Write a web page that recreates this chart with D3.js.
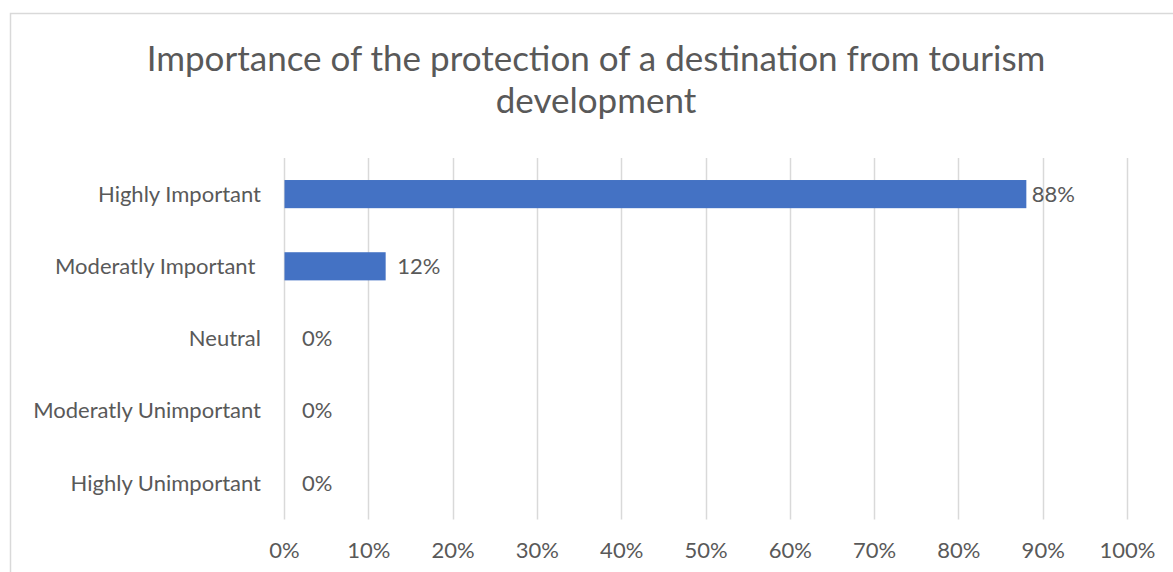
<!DOCTYPE html>
<html>
<head>
<meta charset="utf-8">
<script src="https://cdn.jsdelivr.net/npm/d3@7"></script>
<style>
  html, body { margin: 0; padding: 0; background: #fff; }
  svg { display: block; }
  text { font-family: Lato, "Open Sans", sans-serif; fill: #595959; white-space: pre; }
</style>
</head>
<body>
<svg id="chart" width="1173" height="572"></svg>
<script>
// Survey responses: share of respondents per importance level
const categories = [
  "Highly Important",
  "Moderatly Important ",
  "Neutral",
  "Moderatly Unimportant",
  "Highly Unimportant"
];
const shares = [0.88, 0.12, 0, 0, 0];
const tickValues = [0, 0.1, 0.2, 0.3, 0.4, 0.5, 0.6, 0.7, 0.8, 0.9, 1.0];
const titleLines = [
  "Importance of the protection of a destination from tourism",
  "development"
];

const W = 1173, H = 572;
const margin = { top: 158, right: 45, bottom: 53, left: 284 };
const svg = d3.select("#chart");
const labelSize = "22px";

// chart frame
svg.append("rect")
  .attr("x", 10.5).attr("y", 13.5)
  .attr("width", W + 20).attr("height", H + 20)
  .attr("fill", "#fff")
  .attr("stroke", "#d9d9d9").attr("stroke-width", 1.5);

const x = d3.scaleLinear().domain([0, 1]).range([margin.left, W - margin.right - 1]);
const y = d3.scaleBand().domain(categories)
  .range([margin.top, H - margin.bottom])
  .paddingInner(0.61).paddingOuter(0.305);

// title
svg.append("g").selectAll("text")
  .data(titleLines)
  .join("text")
  .attr("x", 596)
  .attr("y", (d, i) => 71 + i * 42)
  .attr("text-anchor", "middle")
  .style("font-size", "35px")
  .text(d => d);

// vertical gridlines
svg.append("g").selectAll("line")
  .data(tickValues)
  .join("line")
  .attr("x1", d => Math.round(x(d)) + 0.5)
  .attr("x2", d => Math.round(x(d)) + 0.5)
  .attr("y1", margin.top)
  .attr("y2", H - margin.bottom + 0.5)
  .attr("stroke", "#d9d9d9")
  .attr("stroke-width", 1.5);

// x axis tick labels
const xAxis = d3.axisBottom(x)
  .tickValues(tickValues)
  .tickFormat(d3.format(".0%"))
  .tickSize(0)
  .tickPadding(0);
const gx = svg.append("g")
  .attr("transform", `translate(0,${H - margin.bottom})`)
  .call(xAxis);
gx.select(".domain").remove();
gx.selectAll("text")
  .attr("y", 39)
  .attr("dy", 0)
  .style("font-size", labelSize)
  .style("font-family", "Lato, 'Open Sans', sans-serif")
  .attr("fill", "#595959");

// category labels
const yAxis = d3.axisLeft(y).tickSize(0).tickPadding(23);
const gy = svg.append("g")
  .attr("transform", `translate(${margin.left},0)`)
  .call(yAxis);
gy.select(".domain").remove();
gy.selectAll("text")
  .attr("dy", "0.35em")
  .style("font-size", labelSize)
  .style("font-family", "Lato, 'Open Sans', sans-serif")
  .style("white-space", "pre")
  .attr("fill", "#595959");

// bars
const rows = categories.map((c, i) => ({ cat: c, v: shares[i] }));
svg.append("g").selectAll("rect")
  .data(rows)
  .join("rect")
  .attr("x", x(0) + 0.5)
  .attr("y", d => y(d.cat))
  .attr("width", d => Math.max(0, x(d.v) - x(0)))
  .attr("height", y.bandwidth())
  .attr("fill", "#4472c4");

// value labels
const labelGap = v => (v === 0 ? 18 : v < 0.5 ? 12 : 6);
svg.append("g").selectAll("text")
  .data(rows)
  .join("text")
  .attr("x", d => x(d.v) + labelGap(d.v))
  .attr("y", d => y(d.cat) + y.bandwidth() / 2)
  .attr("dy", "0.35em")
  .style("font-size", labelSize)
  .text(d => d3.format(".0%")(d.v));
</script>
</body>
</html>
